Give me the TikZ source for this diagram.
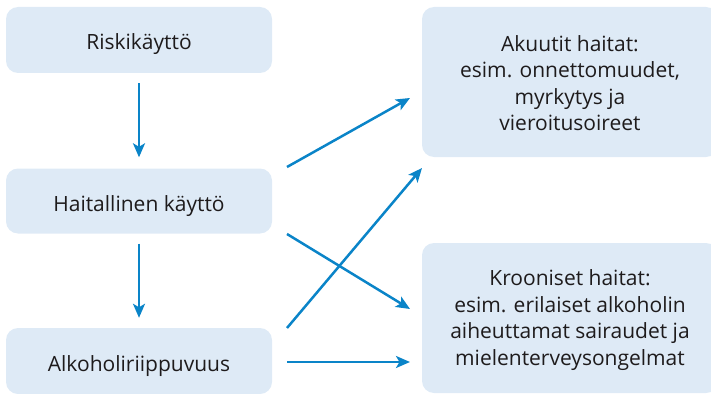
\documentclass[tikz,border=0pt]{standalone}
\usepackage{fontspec}
\setmainfont{Open Sans}
\usetikzlibrary{arrows.meta}
\definecolor{boxfill}{HTML}{DEEAF6}
\definecolor{arrowblue}{HTML}{0A84C8}
\definecolor{txt}{HTML}{1E1B1C}
\tikzset{
  box/.style={fill=boxfill, rounded corners=12pt, inner sep=0pt, text=txt,
    font=\fontsize{21}{26.4}\selectfont, align=center},
  leftbox/.style={box, minimum width=266pt, minimum height=66pt,
    text height=24pt, text depth=4pt},
  boxtext/.style={font=\fontsize{21}{26.4}\selectfont, align=center, text=txt},
  conn/.style={draw=arrowblue, line width=2.5pt,
    -{Stealth[length=14pt, width=12pt, inset=3.5pt]}},
}
\begin{document}
\begin{tikzpicture}[x=1pt, y=-1pt]
\useasboundingbox (0,0) rectangle (711,393);
% left boxes
\node[leftbox] (r) at (139,40) {Riskikäyttö};
\node[leftbox, minimum height=65pt] (h) at (139,201) {Haitallinen käyttö};
\node[leftbox] (a) at (139,361) {Alkoholiriippuvuus};
% right boxes
\node[box, minimum width=296pt, minimum height=150pt] (ak) at (570,82) {};
\node[box, minimum width=296pt, minimum height=150pt] (kr) at (570,318) {};
\node[boxtext] (akt) at (ak.center) [yshift=-1pt]
  {Akuutit haitat:\\esim. onnettomuudet,\\myrkytys ja\\vieroitusoireet};
\node[boxtext] (krt) at (kr.center) [yshift=-2pt]
  {Krooniset haitat:\\esim. erilaiset alkoholin\\aiheuttamat sairaudet ja\\mielenterveysongelmat};
% connector end points
\coordinate (h1) at (287,167);
\coordinate (h2) at (287,234);
\coordinate (a1) at (287,328);
\coordinate (a2) at (287,362);
\coordinate (ak1) at (410,98);
\coordinate (ak2) at (422,168);
\coordinate (kr1) at (410,309);
\coordinate (kr2) at (410,362);
% arrows
\draw[conn, shorten <=10pt, shorten >=11pt] (r.south) -- (h.north);
\draw[conn, shorten <=10pt, shorten >=10pt] (h.south) -- (a.north);
\draw[conn] (h1) -- (ak1);
\draw[conn] (h2) -- (kr1);
\draw[conn] (a1) -- (ak2);
\draw[conn] (a2) -- (kr2);
\end{tikzpicture}
\end{document}
